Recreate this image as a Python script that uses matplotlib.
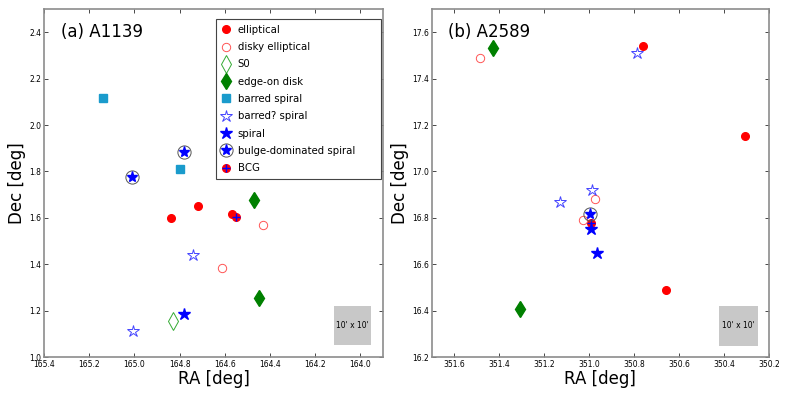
import matplotlib
matplotlib.use("Agg")
import matplotlib.pyplot as plt
from matplotlib.patches import Rectangle

# ---- A1139 (panel a) ----
a_ell_ra = [164.838, 164.717, 164.566]
a_ell_dec = [1.600, 1.652, 1.616]
a_disky_ra = [164.433, 164.613]
a_disky_dec = [1.568, 1.384]
a_s0_ra = [164.828]
a_s0_dec = [1.155]
a_edge_ra = [164.447, 164.470]
a_edge_dec = [1.253, 1.678]
a_barred_ra = [165.137, 164.800]
a_barred_dec = [2.116, 1.810]
a_barredq_ra = [164.741, 165.007]
a_barredq_dec = [1.438, 1.113]
a_spiral_ra = [164.779]
a_spiral_dec = [1.184]
a_bulge_ra = [165.010, 164.782]
a_bulge_dec = [1.776, 1.882]
a_bcg_ra = [164.550]
a_bcg_dec = [1.605]

# ---- A2589 (panel b) ----
b_ell_ra = [350.762, 350.308, 350.658]
b_ell_dec = [17.540, 17.153, 16.489]
b_disky_ra = [351.484, 350.975, 351.028]
b_disky_dec = [17.490, 16.881, 16.792]
b_s0_ra = []
b_s0_dec = []
b_edge_ra = [351.426, 351.308]
b_edge_dec = [17.533, 16.407]
b_barred_ra = []
b_barred_dec = []
b_barredq_ra = [350.789, 351.131, 350.986]
b_barredq_dec = [17.512, 16.869, 16.920]
b_spiral_ra = [350.991, 350.966]
b_spiral_dec = [16.750, 16.647]
b_bulge_ra = [350.998]
b_bulge_dec = [16.815]
b_bcg_ra = [350.992]
b_bcg_dec = [16.779]

BARRED_COL = "#1a9bcc"
SPINE_COL = "#8c8c8c"


def draw_panel(ax, d, label, xlim, ylim, xticks, yticks, box):
    h = {}
    h["bcg"] = ax.plot(d["bcg_ra"], d["bcg_dec"], "o", color="red", mec="red", ms=5.5, zorder=3)[0]
    h["bcgp"] = ax.plot(d["bcg_ra"], d["bcg_dec"], "+", color="blue", ms=6, mew=1.0, zorder=4)[0]
    h["ell"] = ax.plot(d["ell_ra"], d["ell_dec"], "o", color="red", mec="red", ms=5.5, zorder=3)[0]
    h["disky"] = ax.plot(d["disky_ra"], d["disky_dec"], "o", mfc="none", mec="#ff5555", mew=0.7, ms=6, zorder=3)[0]
    h["s0"] = ax.plot(d["s0_ra"], d["s0_dec"], "d", mfc="none", mec="#33aa33", mew=0.7, ms=9, zorder=3)[0]
    h["edge"] = ax.plot(d["edge_ra"], d["edge_dec"], "d", color="green", mec="green", ms=8, zorder=3)[0]
    h["barred"] = ax.plot(d["barred_ra"], d["barred_dec"], "s", color=BARRED_COL, mec=BARRED_COL, ms=5.5, zorder=3)[0]
    h["barredq"] = ax.plot(d["barredq_ra"], d["barredq_dec"], "*", mfc="none", mec="#4444ff", mew=0.7, ms=9, zorder=3)[0]
    h["spiral"] = ax.plot(d["spiral_ra"], d["spiral_dec"], "*", color="blue", mec="blue", ms=9, zorder=5)[0]
    h["bulgec"] = ax.plot(d["bulge_ra"], d["bulge_dec"], "o", mfc="none", mec="#555555", mew=0.7, ms=9.5, zorder=5)[0]
    h["bulges"] = ax.plot(d["bulge_ra"], d["bulge_dec"], "*", color="blue", mec="blue", ms=8, zorder=6)[0]

    ax.add_patch(Rectangle((box[0], box[1]), box[2], box[3], facecolor="#c8c8c8", edgecolor="none", zorder=1))
    ax.text(box[0] + box[2] / 2, box[1] + box[3] / 2, "10' x 10'", ha="center", va="center", fontsize=5.5, zorder=2)

    ax.set_xlim(*xlim)
    ax.set_ylim(*ylim)
    ax.set_xticks(xticks)
    ax.set_yticks(yticks)
    ax.set_xticklabels(["%.1f" % v for v in xticks])
    ax.set_yticklabels(["%.1f" % v for v in yticks])
    ax.tick_params(direction="in", top=True, right=True, length=3, width=0.5, labelsize=5.5, pad=2)
    for s in ax.spines.values():
        s.set_color(SPINE_COL)
        s.set_linewidth(1.2)
    ax.set_xlabel("RA [deg]", fontsize=12, labelpad=1)
    ax.set_ylabel("Dec [deg]", fontsize=12, labelpad=2)
    ax.text(0.05, 0.934, label, transform=ax.transAxes, fontsize=12, va="center", ha="left")
    return h


fig = plt.figure(figsize=(7.89, 3.98), dpi=100)
ax1 = fig.add_axes([0.0558, 0.103, 0.4296, 0.874])
ax2 = fig.add_axes([0.547, 0.103, 0.428, 0.874])

da = dict(ell_ra=a_ell_ra, ell_dec=a_ell_dec, disky_ra=a_disky_ra, disky_dec=a_disky_dec,
          s0_ra=a_s0_ra, s0_dec=a_s0_dec, edge_ra=a_edge_ra, edge_dec=a_edge_dec,
          barred_ra=a_barred_ra, barred_dec=a_barred_dec, barredq_ra=a_barredq_ra, barredq_dec=a_barredq_dec,
          spiral_ra=a_spiral_ra, spiral_dec=a_spiral_dec, bulge_ra=a_bulge_ra, bulge_dec=a_bulge_dec,
          bcg_ra=a_bcg_ra, bcg_dec=a_bcg_dec)
db = dict(ell_ra=b_ell_ra, ell_dec=b_ell_dec, disky_ra=b_disky_ra, disky_dec=b_disky_dec,
          s0_ra=b_s0_ra, s0_dec=b_s0_dec, edge_ra=b_edge_ra, edge_dec=b_edge_dec,
          barred_ra=b_barred_ra, barred_dec=b_barred_dec, barredq_ra=b_barredq_ra, barredq_dec=b_barredq_dec,
          spiral_ra=b_spiral_ra, spiral_dec=b_spiral_dec, bulge_ra=b_bulge_ra, bulge_dec=b_bulge_dec,
          bcg_ra=b_bcg_ra, bcg_dec=b_bcg_dec)

ha = draw_panel(ax1, da, "(a) A1139", (165.4, 163.9), (1.0, 2.5),
                [165.4, 165.2, 165.0, 164.8, 164.6, 164.4, 164.2, 164.0],
                [1.0, 1.2, 1.4, 1.6, 1.8, 2.0, 2.2, 2.4],
                (164.118, 1.052, -0.167, 0.168))
draw_panel(ax2, db, "(b) A2589", (351.7, 350.2), (16.2, 17.7),
           [351.6, 351.4, 351.2, 351.0, 350.8, 350.6, 350.4, 350.2],
           [16.2, 16.4, 16.6, 16.8, 17.0, 17.2, 17.4, 17.6],
           (350.423, 16.249, -0.173, 0.171))

handles = [ha["ell"], ha["disky"], ha["s0"], ha["edge"], ha["barred"], ha["barredq"],
           ha["spiral"], (ha["bulgec"], ha["bulges"]), (ha["bcg"], ha["bcgp"])]
labels = ["elliptical", "disky elliptical", "S0", "edge-on disk", "barred spiral",
          "barred? spiral", "spiral", "bulge-dominated spiral", "BCG"]
leg = ax1.legend(handles, labels, loc="upper left", bbox_to_anchor=(0.5065, 0.5, 0.4875, 0.471),
                 mode="expand", borderaxespad=0,
                 numpoints=1, fontsize=7.3, fancybox=False, handlelength=1.0, handletextpad=0.6,
                 labelspacing=0.72, borderpad=0.55, framealpha=1)
leg.get_frame().set_edgecolor("#444444")
leg.get_frame().set_linewidth(0.8)

fig.savefig("out.png", dpi=100)
